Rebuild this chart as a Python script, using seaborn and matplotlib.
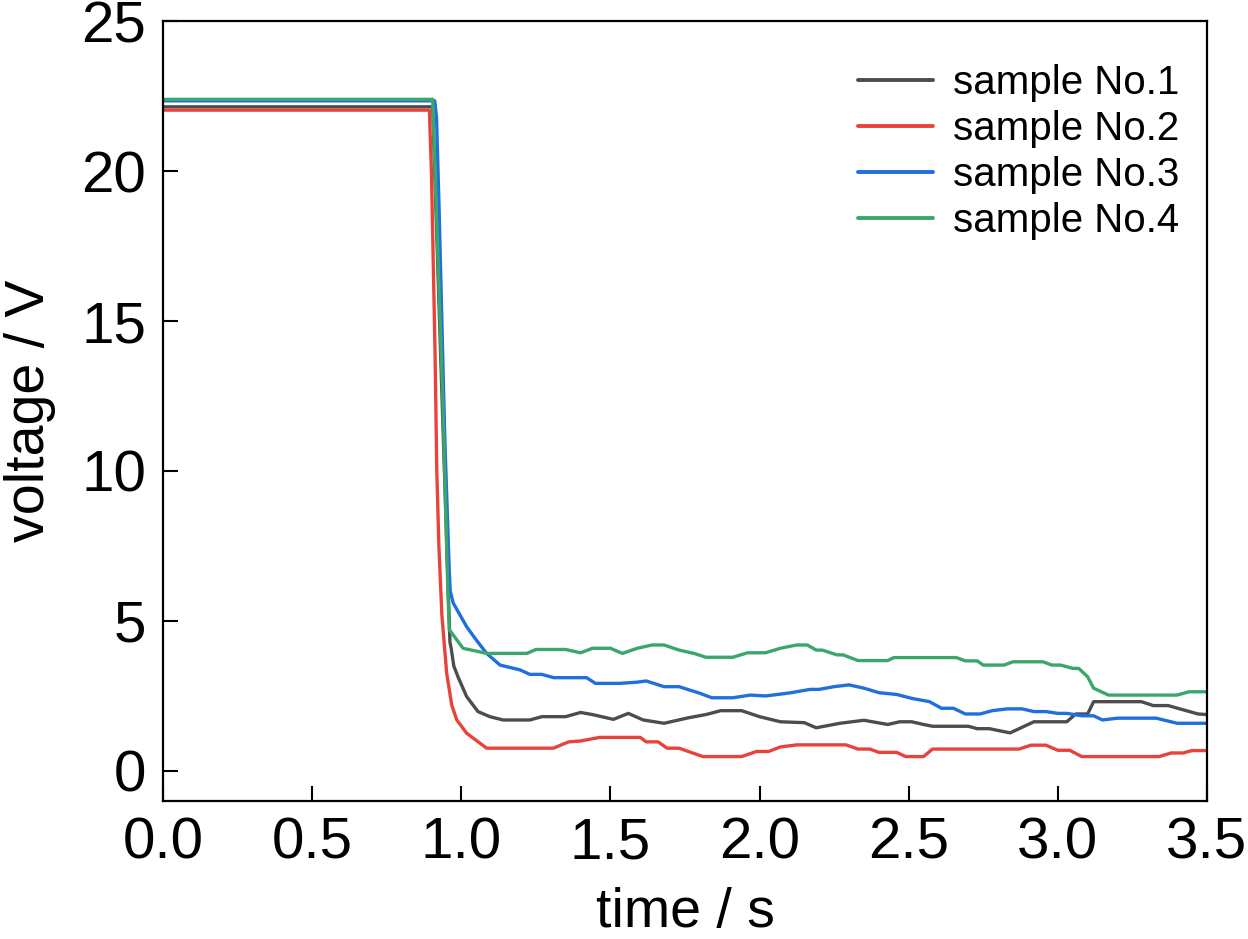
import pandas as pd
import numpy as np
import seaborn as sns
import matplotlib.pyplot as plt


# values (time in s, voltage in V)
labels = ["sample No.1", "sample No.2", "sample No.3", "sample No.4"]
colors = ["#4d4d4d", "#e8433b", "#1f6fdc", "#3aa76a"]

t1 = [0.0, 0.904, 0.962, 0.966, 0.975, 0.989, 1.018, 1.056, 1.096, 1.14, 1.23, 1.27, 1.35,
      1.40, 1.44, 1.51, 1.56, 1.61, 1.68, 1.76, 1.82, 1.87, 1.94, 2.00, 2.07, 2.15, 2.19,
      2.27, 2.35, 2.43, 2.47, 2.51, 2.55, 2.58, 2.70, 2.73, 2.77, 2.84, 2.92, 3.03, 3.06,
      3.10, 3.12, 3.28, 3.32, 3.37, 3.47, 3.50]
v1 = [22.14, 22.14, 4.3, 4.1, 3.5, 3.14, 2.48, 1.98, 1.81, 1.70, 1.70, 1.81, 1.81,
      1.95, 1.88, 1.72, 1.92, 1.70, 1.59, 1.77, 1.88, 2.01, 2.01, 1.81, 1.64, 1.61, 1.44,
      1.59, 1.69, 1.55, 1.64, 1.64, 1.55, 1.49, 1.49, 1.41, 1.41, 1.27, 1.64, 1.64, 1.90,
      1.90, 2.31, 2.31, 2.18, 2.18, 1.90, 1.88]

t2 = [0.0, 0.893, 0.90, 0.912, 0.918, 0.925, 0.935, 0.945, 0.951, 0.968, 0.985, 1.018,
      1.085, 1.309, 1.36, 1.40, 1.465, 1.60, 1.62, 1.66, 1.69, 1.73, 1.81, 1.94, 1.99,
      2.03, 2.07, 2.125, 2.29, 2.33, 2.37, 2.40, 2.46, 2.49, 2.55, 2.58, 2.87, 2.91, 2.96,
      3.00, 3.04, 3.08, 3.34, 3.38, 3.42, 3.45, 3.50]
v2 = [22.03, 22.03, 20.0, 14.0, 10.0, 7.5, 5.2, 4.0, 3.27, 2.2, 1.7, 1.26,
      0.76, 0.76, 0.97, 1.0, 1.12, 1.12, 0.97, 0.97, 0.76, 0.76, 0.48, 0.48, 0.65,
      0.65, 0.80, 0.87, 0.87, 0.73, 0.73, 0.62, 0.62, 0.48, 0.48, 0.73, 0.73, 0.86, 0.86,
      0.69, 0.69, 0.48, 0.48, 0.60, 0.60, 0.68, 0.68]

t3 = [0.0, 0.911, 0.917, 0.925, 0.945, 0.96, 0.963, 0.973, 1.018, 1.05, 1.085, 1.13,
      1.197, 1.23, 1.27, 1.31, 1.42, 1.45, 1.53, 1.59, 1.62, 1.68, 1.73, 1.80, 1.84, 1.91,
      1.97, 2.02, 2.10, 2.17, 2.20, 2.25, 2.30, 2.35, 2.40, 2.46, 2.51, 2.57, 2.61, 2.65,
      2.69, 2.74, 2.78, 2.83, 2.88, 2.92, 2.96, 3.00, 3.03, 3.08, 3.12, 3.15, 3.20, 3.33,
      3.40, 3.50]
v3 = [22.34, 22.34, 21.8, 19.0, 11.0, 6.6, 6.0, 5.6, 4.81, 4.37, 3.92, 3.53,
      3.37, 3.22, 3.22, 3.11, 3.11, 2.92, 2.92, 2.96, 3.00, 2.81, 2.81, 2.59, 2.44, 2.44,
      2.53, 2.50, 2.60, 2.72, 2.72, 2.81, 2.87, 2.76, 2.61, 2.55, 2.42, 2.31, 2.09, 2.09,
      1.90, 1.90, 2.01, 2.07, 2.07, 1.98, 1.98, 1.92, 1.92, 1.84, 1.84, 1.70, 1.76, 1.76,
      1.59, 1.59]

t4 = [0.0, 0.904, 0.938, 0.955, 0.96, 0.968, 1.006, 1.085, 1.22, 1.25, 1.35, 1.40, 1.44,
      1.50, 1.54, 1.59, 1.64, 1.68, 1.73, 1.78, 1.82, 1.91, 1.96, 2.02, 2.07, 2.125, 2.16,
      2.19, 2.21, 2.26, 2.28, 2.33, 2.43, 2.45, 2.66, 2.69, 2.73, 2.75, 2.82, 2.85, 2.95,
      2.98, 3.01, 3.05, 3.07, 3.10, 3.12, 3.17, 3.40, 3.44, 3.50]
v4 = [22.39, 22.39, 12.4, 6.0, 4.7, 4.6, 4.09, 3.92, 3.92, 4.05, 4.05, 3.94, 4.09,
      4.09, 3.92, 4.09, 4.20, 4.20, 4.03, 3.92, 3.79, 3.79, 3.94, 3.94, 4.09, 4.20, 4.20,
      4.03, 4.03, 3.87, 3.87, 3.68, 3.68, 3.78, 3.78, 3.67, 3.67, 3.53, 3.53, 3.64, 3.64,
      3.53, 3.53, 3.42, 3.42, 3.14, 2.76, 2.53, 2.53, 2.64, 2.64]

times = [t1, t2, t3, t4]
volts = [v1, v2, v3, v4]

df = pd.concat([pd.DataFrame({"time": t, "voltage": v, "sample": lab})
                for t, v, lab in zip(times, volts, labels)], ignore_index=True)

sns.set_style("ticks")
plt.rcParams['font.family'] = ['Liberation Sans Narrow', 'Liberation Sans', 'DejaVu Sans']
plt.rcParams['text.color'] = 'black'
plt.rcParams['axes.labelcolor'] = 'black'
plt.rcParams['xtick.color'] = 'black'
plt.rcParams['ytick.color'] = 'black'

fig = plt.figure(figsize=(12.48, 9.39), dpi=100)
ax = fig.add_axes([0.1306, 0.147, 0.8365, 0.8306])

sns.lineplot(data=df, x="time", y="voltage", hue="sample", palette=colors,
             estimator=None, sort=False, linewidth=2.4, ax=ax)

ax.set_xlim(0, 3.5)
ax.set_ylim(-1, 25)
ax.set_xticks(np.arange(0, 3.51, 0.5))
ax.set_yticks([0, 5, 10, 15, 20, 25])
ax.set_xlabel("time / s", fontsize=40, labelpad=12)
ax.set_ylabel("voltage / V", fontsize=40, labelpad=18)
ax.tick_params(axis="both", direction="in", length=10.5, width=1.5, labelsize=42,
               top=False, right=False)
ax.tick_params(axis="x", pad=11)
ax.tick_params(axis="y", pad=12)
for sp in ax.spines.values():
    sp.set_visible(True)
    sp.set_linewidth(1.6)
    sp.set_color("black")

leg = ax.legend(loc="upper right", frameon=False, fontsize=29, handlelength=1.86,
                handletextpad=0.5, labelspacing=0.2, borderaxespad=0, borderpad=0,
                bbox_to_anchor=(0.974, 0.945))
for line in leg.get_lines():
    line.set_linewidth(2.8)

plt.savefig("out.png", dpi=100)
